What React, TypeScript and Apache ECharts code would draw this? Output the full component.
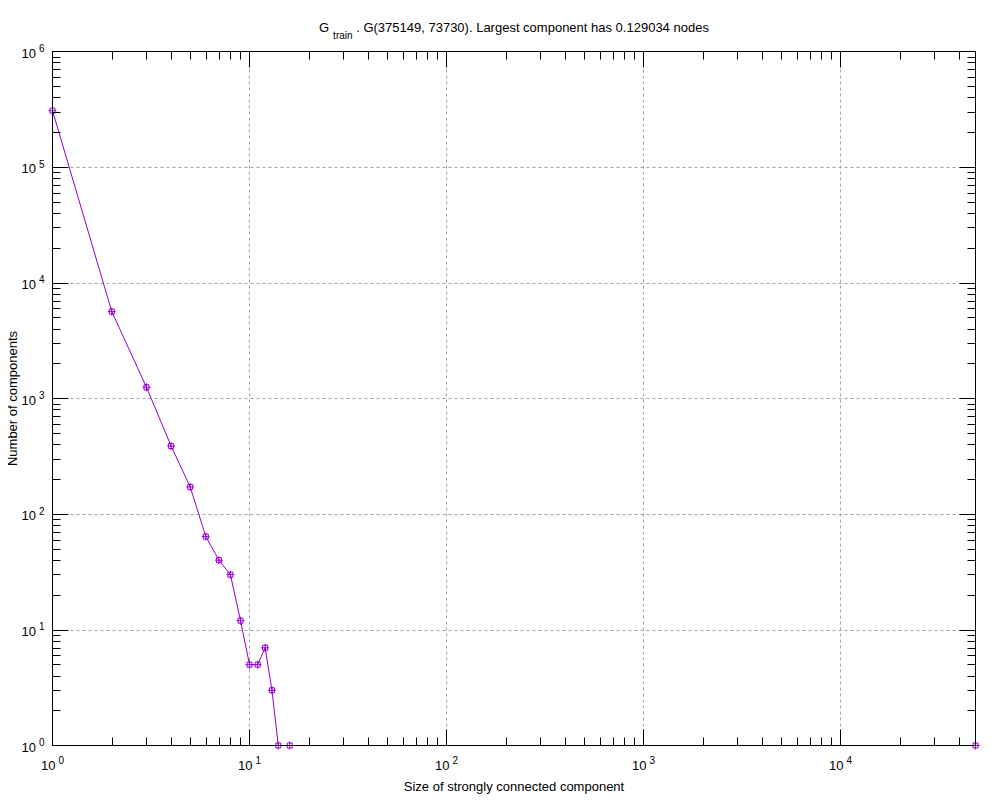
import React, { useEffect, useRef } from 'react';
import * as echarts from 'echarts';

const sizes = [1, 2, 3, 4, 5, 6, 7, 8, 9, 10, 11, 12, 13, 14, 16, 48407];
const counts = [308000, 5640, 1250, 388, 172, 64, 40, 30, 12, 5, 5, 7, 3, 1, 1, 1];

const xLabelValues = [1, 10, 100, 1000, 10000];
const yLabelValues = [1, 10, 100, 1000, 10000, 100000, 1000000];
const xMajorTicks = [10, 100, 1000, 10000];
const yMajorTicks = [10, 100, 1000, 10000, 100000];
const xMinorTicks = [
  2, 3, 4, 5, 6, 7, 8, 9,
  20, 30, 40, 50, 60, 70, 80, 90,
  200, 300, 400, 500, 600, 700, 800, 900,
  2000, 3000, 4000, 5000, 6000, 7000, 8000, 9000,
  20000, 30000, 40000,
];
const yMinorTicks = [
  2, 3, 4, 5, 6, 7, 8, 9,
  20, 30, 40, 50, 60, 70, 80, 90,
  200, 300, 400, 500, 600, 700, 800, 900,
  2000, 3000, 4000, 5000, 6000, 7000, 8000, 9000,
  20000, 30000, 40000, 50000, 60000, 70000, 80000, 90000,
  200000, 300000, 400000, 500000, 600000, 700000, 800000, 900000,
];

const X_MIN = 1;
const X_MAX = 48407;
const Y_MIN = 1;
const Y_MAX = 1000000;

const FONT = '"Liberation Sans", Arial, sans-serif';
const PURPLE = '#9400d3';

const powRich = {
  b: { fontSize: 13, color: '#000', fontFamily: FONT, lineHeight: 16, verticalAlign: 'bottom' },
  e: { fontSize: 10, color: '#000', fontFamily: FONT, lineHeight: 11, verticalAlign: 'top', padding: [0, 0, 0, 3] },
};
const powFmt = (v: number) => `{b|10}{e|${Math.round(Math.log10(v))}}`;

const SYMBOL = 'path://M0,4L8,4M4,0L4,8M1.5,1.5L6.5,1.5L6.5,6.5L1.5,6.5Z';

export default function App() {
  const ref = useRef<HTMLDivElement>(null);
  useEffect(() => {
    if (!ref.current) return;
    const chart = echarts.init(ref.current, undefined, { renderer: 'svg' });

    const baseX = (extra: any) => ({
      type: 'log',
      logBase: 10,
      min: X_MIN,
      max: X_MAX,
      gridIndex: 0,
      axisLabel: { show: false },
      splitLine: { show: false },
      axisLine: { show: false },
      ...extra,
    });
    const baseY = (extra: any) => ({
      type: 'log',
      logBase: 10,
      min: Y_MIN,
      max: Y_MAX,
      gridIndex: 0,
      axisLabel: { show: false },
      splitLine: { show: false },
      axisLine: { show: false },
      ...extra,
    });
    const grid = { left: 52.5, right: 24.5, top: 51.5, bottom: 54.5, outerBoundsMode: 'none', containLabel: false };
    const line = { show: true, onZero: false, lineStyle: { color: '#000', width: 1 } };
    const splitLine = { show: true, lineStyle: { color: '#a0a0a0', width: 1, type: [3, 3] } };
    const tickStyle = { color: '#000', width: 1 };

    chart.setOption({
      animation: false,
      backgroundColor: '#fff',
      title: {
        left: 314,
        top: 16,
        text: '{g|G}{s|train}{g| . G(375149, 73730). Largest component has 0.129034 nodes}',
        textStyle: {
          fontWeight: 'normal',
          rich: {
            g: { fontSize: 13, fontWeight: 'normal', color: '#000', fontFamily: FONT, lineHeight: 19, verticalAlign: 'top' },
            s: { fontSize: 10, fontWeight: 'normal', color: '#000', fontFamily: FONT, lineHeight: 11, verticalAlign: 'bottom', padding: [0, 0, 0, 4] },
          },
        },
      },
      grid,
      xAxis: [
        baseX({
          position: 'bottom',
          name: 'Size of strongly connected component',
          nameLocation: 'middle',
          nameGap: 34,
          nameMoveOverlap: false,
          nameTextStyle: { fontSize: 13, color: '#000', fontFamily: FONT },
          axisLabel: { show: true, margin: 10, customValues: xLabelValues, formatter: powFmt, rich: powRich },
          axisTick: { show: true, inside: true, length: 16, customValues: xMajorTicks, lineStyle: tickStyle },
          splitLine,
        }),
        baseX({
          position: 'bottom',
          z: 10,
          axisLine: line,
          axisTick: { show: true, inside: true, length: 8, customValues: xMinorTicks, lineStyle: tickStyle },
        }),
        baseX({
          position: 'top',
          z: 10,
          axisLine: line,
          axisTick: { show: true, inside: true, length: 16, customValues: xMajorTicks, lineStyle: tickStyle },
        }),
        baseX({
          position: 'top',
          axisTick: { show: true, inside: true, length: 8, customValues: xMinorTicks, lineStyle: tickStyle },
        }),
      ],
      yAxis: [
        baseY({
          position: 'left',
          name: 'Number of components',
          nameLocation: 'middle',
          nameGap: 34,
          nameMoveOverlap: false,
          nameRotate: 90,
          nameTextStyle: { fontSize: 13, color: '#000', fontFamily: FONT },
          axisLabel: { show: true, margin: 8, customValues: yLabelValues, formatter: powFmt, rich: powRich },
          axisTick: { show: true, inside: true, length: 16, customValues: yMajorTicks, lineStyle: tickStyle },
          splitLine,
        }),
        baseY({
          position: 'left',
          z: 10,
          axisLine: line,
          axisTick: { show: true, inside: true, length: 8, customValues: yMinorTicks, lineStyle: tickStyle },
        }),
        baseY({
          position: 'right',
          z: 10,
          axisLine: line,
          axisTick: { show: true, inside: true, length: 16, customValues: yMajorTicks, lineStyle: tickStyle },
        }),
        baseY({
          position: 'right',
          axisTick: { show: true, inside: true, length: 8, customValues: yMinorTicks, lineStyle: tickStyle },
        }),
      ],
      series: [
        {
          type: 'line',
          xAxisIndex: 0,
          yAxisIndex: 0,
          data: sizes.map((s, i) => [s, counts[i]]),
          clip: false,
          symbol: SYMBOL,
          symbolSize: 8,
          showAllSymbol: true,
          lineStyle: { color: PURPLE, width: 1 },
          itemStyle: { color: 'rgba(0,0,0,0)', borderColor: PURPLE, borderWidth: 1 },
          z: 5,
        },
      ],
    });
    return () => chart.dispose();
  }, []);
  return <div ref={ref} style={{ position: 'fixed', left: 0, top: 0, width: 1000, height: 800 }} />;
}
